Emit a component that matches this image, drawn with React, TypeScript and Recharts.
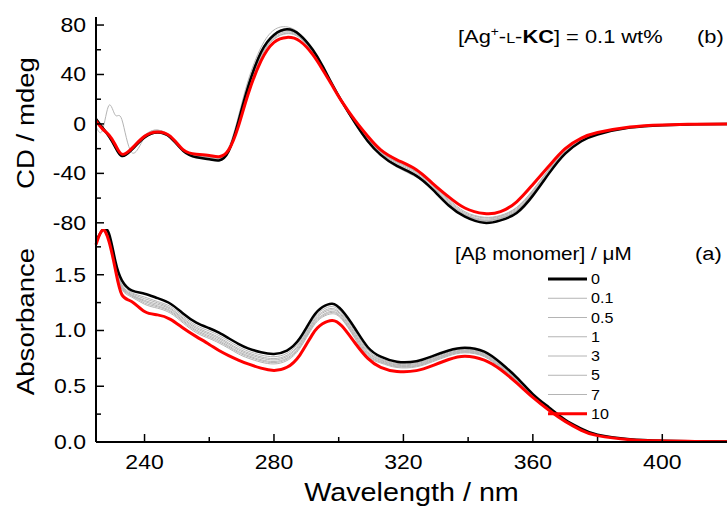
import { type ReactElement, type ReactNode } from 'react';
import { Label, Legend, Line, LineChart, XAxis, YAxis } from 'recharts';

// wavelength grid (nm)
const WAVELENGTHS = [225, 227, 229, 231, 233, 236, 240, 244, 248, 252, 256, 260, 263, 266, 269, 272, 276, 280, 284, 288, 292, 295, 298, 301, 305, 309, 313, 318, 324, 329, 334, 339, 345, 350, 355, 360, 365, 370, 375, 380, 390, 400, 410, 420];

const CONCENTRATIONS = ['0', '0.1', '0.5', '1', '3', '5', '7', '10'];

// CD spectra (mdeg), one per Aβ concentration
const CD_0 = [4, -3, -10, -19, -26, -21, -11, -7, -11, -22, -27, -28.5, -29.5, -22, 2, 30, 58, 72, 76.5, 72, 60, 47, 32, 18, 1, -14, -25, -34, -42, -53, -66, -75, -80, -78, -72, -58, -40, -24, -14, -8.5, -3, -1, -0.3, 0];
const CD_01 = [5, -2, -9, -18, -25, -20, -9, -5, -10, -21, -26, -27.5, -28, -19, 6, 35, 62, 76, 78.5, 73, 60, 46, 31, 17, 0, -15, -26, -35, -43, -52, -65, -74, -78.5, -76.5, -70, -56, -39, -23, -13.5, -8, -3, -1, -0.3, 0];
const CD_05 = [3, -4, -11, -20, -26.5, -21, -10, -6, -11, -22, -26.5, -28, -29, -21, 4, 32, 59, 73, 77, 72.5, 60, 47, 32, 18, 1, -14, -25.5, -34, -42, -52, -65, -74, -78, -76, -70.5, -56.5, -39.5, -23.5, -14, -8.5, -3, -1, -0.3, 0];
const CD_1 = [4, -3, -10, -19, -25.5, -20, -10, -6, -10.5, -21.5, -26, -27.5, -28.5, -21, 2, 30, 57, 71, 75.5, 71, 59, 46, 31, 18, 1, -13, -24.5, -33, -41, -52, -64, -73.5, -78, -76, -70, -56, -39, -23, -13.5, -8, -3, -1, -0.3, 0];
const CD_3 = [3, -4, -10, -18.5, -25.5, -20.5, -10.5, -6.5, -10.5, -21.5, -25.5, -27, -28, -21, 1, 28, 56, 70, 74.5, 70.5, 58.5, 45.5, 31, 18, 2, -12.5, -23.5, -32, -40, -51, -63, -73, -77, -75, -69, -55, -38, -22.5, -13, -8, -3, -1, -0.3, 0];
const CD_5 = [2, -5, -11, -19, -26, -21, -10, -6, -10, -21, -25, -26.5, -27.5, -21, 0, 27, 55, 69, 73.5, 70, 58, 45, 31, 18, 2, -12, -23, -31, -39, -50, -62, -72, -76, -74.5, -68, -54, -37, -22, -12.5, -7.5, -2.8, -1, -0.3, 0];
const CD_7 = [-2, -5, 15, 7, 3.5, -23, -11, -5, -10, -21, -25, -26, -27, -21, -1, 26, 54, 68.5, 73, 69.5, 57.5, 45, 31, 18, 2.5, -11.5, -22.5, -30.5, -38.5, -49.5, -61, -71, -75.5, -74, -67.5, -53.5, -36.5, -21.5, -12, -7.5, -2.8, -1, -0.3, 0];
const CD_10 = [2.5, -4, -9, -17, -24.5, -20, -10, -6.5, -10, -21, -24.5, -25.5, -26.5, -21, -2, 24, 51, 66, 70, 67, 56, 44, 31, 18, 3, -10, -21, -29, -37, -48, -59, -68, -72.5, -71, -63, -49, -34, -20, -11.5, -7, -2.5, -0.8, -0.2, 0];

// absorbance spectra
const ABS_0 = [1.8, 1.9, 1.87, 1.62, 1.45, 1.36, 1.33, 1.29, 1.24, 1.15, 1.07, 1.02, 0.98, 0.93, 0.88, 0.84, 0.805, 0.79, 0.82, 0.93, 1.12, 1.21, 1.24, 1.18, 1.02, 0.85, 0.765, 0.72, 0.725, 0.77, 0.82, 0.845, 0.81, 0.71, 0.58, 0.43, 0.31, 0.2, 0.12, 0.065, 0.025, 0.012, 0.006, 0.004];
const ABS_01 = [1.795, 1.9, 1.86, 1.61, 1.43, 1.34, 1.3, 1.26, 1.215, 1.125, 1.045, 0.995, 0.955, 0.905, 0.855, 0.815, 0.78, 0.765, 0.795, 0.905, 1.095, 1.185, 1.215, 1.155, 0.995, 0.825, 0.748, 0.705, 0.71, 0.755, 0.806, 0.831, 0.797, 0.696, 0.571, 0.425, 0.305, 0.197, 0.117, 0.064, 0.024, 0.012, 0.006, 0.004];
const ABS_05 = [1.79, 1.9, 1.85, 1.6, 1.41, 1.33, 1.285, 1.248, 1.2, 1.11, 1.03, 0.978, 0.938, 0.888, 0.838, 0.8, 0.764, 0.748, 0.778, 0.888, 1.078, 1.168, 1.198, 1.14, 0.978, 0.81, 0.738, 0.696, 0.702, 0.746, 0.797, 0.824, 0.789, 0.688, 0.566, 0.422, 0.303, 0.196, 0.116, 0.063, 0.024, 0.012, 0.006, 0.004];
const ABS_1 = [1.79, 1.9, 1.845, 1.595, 1.4, 1.32, 1.27, 1.235, 1.19, 1.1, 1.018, 0.966, 0.926, 0.876, 0.826, 0.788, 0.752, 0.736, 0.766, 0.876, 1.066, 1.156, 1.186, 1.13, 0.966, 0.8, 0.731, 0.689, 0.694, 0.739, 0.791, 0.818, 0.783, 0.681, 0.562, 0.419, 0.301, 0.195, 0.115, 0.062, 0.024, 0.011, 0.006, 0.004];
const ABS_3 = [1.785, 1.9, 1.84, 1.59, 1.39, 1.315, 1.26, 1.222, 1.177, 1.087, 1.004, 0.952, 0.912, 0.862, 0.812, 0.775, 0.738, 0.722, 0.752, 0.862, 1.052, 1.14, 1.172, 1.117, 0.952, 0.787, 0.722, 0.681, 0.686, 0.732, 0.784, 0.811, 0.776, 0.674, 0.557, 0.417, 0.299, 0.193, 0.113, 0.061, 0.023, 0.011, 0.006, 0.004];
const ABS_5 = [1.785, 1.9, 1.835, 1.585, 1.38, 1.31, 1.247, 1.212, 1.167, 1.077, 0.993, 0.94, 0.9, 0.852, 0.802, 0.765, 0.728, 0.712, 0.742, 0.852, 1.042, 1.13, 1.162, 1.108, 0.942, 0.777, 0.716, 0.675, 0.681, 0.726, 0.779, 0.806, 0.771, 0.668, 0.554, 0.414, 0.297, 0.192, 0.112, 0.061, 0.023, 0.011, 0.005, 0.004];
const ABS_7 = [1.782, 1.9, 1.83, 1.58, 1.37, 1.3, 1.235, 1.2, 1.155, 1.065, 0.98, 0.928, 0.888, 0.84, 0.79, 0.752, 0.716, 0.7, 0.73, 0.84, 1.03, 1.12, 1.15, 1.1, 0.93, 0.766, 0.708, 0.668, 0.674, 0.719, 0.772, 0.8, 0.765, 0.662, 0.55, 0.412, 0.295, 0.191, 0.111, 0.06, 0.023, 0.011, 0.005, 0.003];
const ABS_10 = [1.77, 1.9, 1.8, 1.545, 1.32, 1.26, 1.17, 1.14, 1.1, 1.02, 0.945, 0.875, 0.82, 0.775, 0.735, 0.7, 0.662, 0.642, 0.67, 0.78, 0.97, 1.06, 1.09, 1.04, 0.89, 0.75, 0.67, 0.633, 0.64, 0.685, 0.74, 0.77, 0.735, 0.65, 0.53, 0.4, 0.285, 0.185, 0.105, 0.057, 0.021, 0.01, 0.005, 0.003];

const CD_SERIES = [CD_0, CD_01, CD_05, CD_1, CD_3, CD_5, CD_7, CD_10];
const ABS_SERIES = [ABS_0, ABS_01, ABS_05, ABS_1, ABS_3, ABS_5, ABS_7, ABS_10];

const X_TICKS = [240, 260, 280, 300, 320, 340, 360, 380, 400];
const CD_TICKS = [-80, -60, -40, -20, 0, 20, 40, 60, 80];
const ABS_TICKS = [0, 0.25, 0.5, 0.75, 1, 1.25, 1.5, 1.75];

const FONT = '"Liberation Sans", Arial, sans-serif';
const STRETCH = 1.15;
const GRAY = '#b4b4b4';

const rows = WAVELENGTHS.map((w, i) => {
  const row: Record<string, number> = { w };
  CONCENTRATIONS.forEach((_, j) => {
    row[`cd${j}`] = CD_SERIES[j][i];
    row[`ab${j}`] = ABS_SERIES[j][i];
  });
  return row;
});

const styleFor = (j: number) =>
  j === 0 ? { stroke: '#000', width: 2.5 } : j === 7 ? { stroke: '#ff0000', width: 3 } : { stroke: GRAY, width: 1 };

// grays underneath, then black, red on top
const DRAW_ORDER = [1, 2, 3, 4, 5, 6, 0, 7];

function Txt({ x, y, size, anchor = 'start', rotate = 0, children }: {
  x: number; y: number; size: number; anchor?: 'start' | 'middle' | 'end'; rotate?: number; children: ReactNode;
}): ReactElement {
  return (
    <text
      transform={`translate(${x},${y}) rotate(${rotate}) scale(${STRETCH},1)`}
      fontSize={size}
      fontFamily={FONT}
      textAnchor={anchor}
      fill="#000"
    >
      {children}
    </text>
  );
}

const xTick = (withLabel: boolean) => (props: any) => {
  const { x, y, payload } = props;
  const major = payload.value % 40 === 0;
  return (
    <g>
      <line x1={x} x2={x} y1={y} y2={y - (major ? 8 : 5)} stroke="#000" strokeWidth={1.5} />
      {withLabel && major && (
        <Txt x={x} y={y + 27} size={20} anchor="middle">{payload.value}</Txt>
      )}
    </g>
  );
};

const yTick = (isMajor: (v: number) => boolean, fmt: (v: number) => string) => (props: any) => {
  const { x, y, payload } = props;
  const major = isMajor(payload.value);
  return (
    <g>
      <line x1={x} x2={x + (major ? 8 : 5)} y1={y} y2={y} stroke="#000" strokeWidth={1.5} />
      {major && <Txt x={x - 10} y={y + 7} size={20} anchor="end">{fmt(payload.value)}</Txt>}
    </g>
  );
};

const renderLegend = () => (
  <svg width={100} height={160}>
    {CONCENTRATIONS.map((c, j) => {
      const s = styleFor(j);
      const cy = 10 + j * 19.25;
      return (
        <g key={c}>
          <line x1={3} x2={42} y1={cy} y2={cy} stroke={s.stroke} strokeWidth={j === 0 || j === 7 ? 3 : 1} />
          <Txt x={46} y={cy + 5} size={14}>{c}</Txt>
        </g>
      );
    })}
  </svg>
);

const AXIS_LINE = { stroke: '#000', strokeWidth: 2 };

export default function App(): ReactElement {
  return (
    <div style={{ position: 'absolute', left: 0, top: 0, width: 727, height: 508, background: '#fff' }}>
      <div style={{ position: 'absolute', left: 0, top: 0 }}>
        <LineChart width={727} height={240} data={rows} margin={{ top: 17, right: 0, bottom: 11, left: 0 }}>
          <XAxis xAxisId="frame" orientation="top" type="number" dataKey="w" domain={[225, 420]}
            height={0} tick={false} tickLine={false} axisLine={{ stroke: '#333', strokeWidth: 2 }} />
          <XAxis type="number" dataKey="w" domain={[225, 420]} ticks={X_TICKS} interval={0}
            height={0} tickSize={0} tickMargin={0} tickLine={false} tick={xTick(false)} axisLine={AXIS_LINE} />
          <YAxis type="number" domain={[-85, 86.5]} ticks={CD_TICKS} interval={0} width={96}
            tickSize={0} tickMargin={0} tickLine={false} axisLine={AXIS_LINE}
            tick={yTick((v) => v % 40 === 0, (v) => String(v))}>
            <Label content={() => <Txt x={34} y={123} size={24} rotate={-90} anchor="middle">CD / mdeg</Txt>} />
          </YAxis>
          {DRAW_ORDER.map((j) => {
            const s = styleFor(j);
            return (
              <Line key={j} dataKey={`cd${j}`} name={CONCENTRATIONS[j]} type="natural" stroke={s.stroke}
                strokeWidth={s.width} dot={false} activeDot={false} isAnimationActive={false} />
            );
          })}
        </LineChart>
        <svg style={{ position: 'absolute', left: 0, top: 0, pointerEvents: 'none' }} width={727} height={60}>
          <text transform={`translate(458,43) scale(${STRETCH},1)`} fontSize={19} fontFamily={FONT} fill="#000">
            [Ag<tspan dy={-7} fontSize={12}>+</tspan><tspan dy={7}>-</tspan><tspan fontSize={14}>L</tspan>-<tspan fontWeight="bold">KC</tspan>] = 0.1 wt%
          </text>
          <Txt x={697} y={43} size={19}>(b)</Txt>
        </svg>
      </div>
      <div style={{ position: 'absolute', left: 0, top: 229 }}>
        <LineChart width={727} height={279} data={rows} margin={{ top: 0, right: 0, bottom: 0, left: 0 }}>
          <XAxis type="number" dataKey="w" domain={[225, 420]} ticks={X_TICKS} interval={0}
            height={66} tickSize={0} tickMargin={0} tickLine={false} tick={xTick(true)} axisLine={AXIS_LINE}>
            <Label content={() => <Txt x={411.5} y={272} size={25} anchor="middle">Wavelength / nm</Txt>} />
          </XAxis>
          <YAxis type="number" domain={[0, 1.91]} ticks={ABS_TICKS} interval={0} width={96} allowDataOverflow
            tickSize={0} tickMargin={0} tickLine={false} axisLine={AXIS_LINE}
            tick={yTick((v) => Math.abs(v * 2 - Math.round(v * 2)) < 1e-6, (v) => v.toFixed(1))}>
            <Label content={() => <Txt x={34} y={92.5} size={24} rotate={-90} anchor="middle">Absorbance</Txt>} />
          </YAxis>
          {DRAW_ORDER.map((j) => {
            const s = styleFor(j);
            return (
              <Line key={j} dataKey={`ab${j}`} name={CONCENTRATIONS[j]} type="natural" stroke={s.stroke}
                strokeWidth={s.width} dot={false} activeDot={false} isAnimationActive={false} />
            );
          })}
          <Legend layout="horizontal" verticalAlign="middle" align="center" content={renderLegend}
            wrapperStyle={{ position: 'absolute', left: 545, top: 40, width: 100, height: 160 }} />
        </LineChart>
        <svg style={{ position: 'absolute', left: 0, top: 0, pointerEvents: 'none' }} width={727} height={40}>
          <Txt x={455} y={31} size={18}>[Aβ monomer] / μM</Txt>
          <Txt x={695} y={31} size={19}>(a)</Txt>
        </svg>
      </div>
    </div>
  );
}
